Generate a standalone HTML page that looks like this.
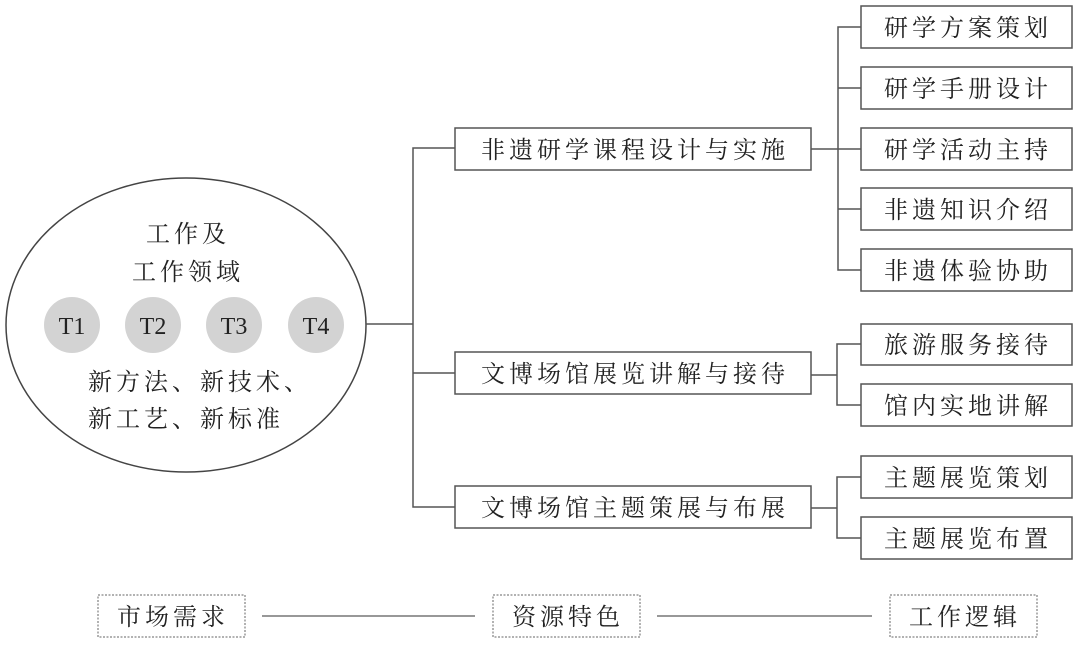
<!DOCTYPE html>
<html><head><meta charset="utf-8"><style>
body{margin:0;background:#fff;}
svg text{font-family:"Liberation Serif","Noto Serif CJK SC","Noto Serif CJK",serif;fill:#222;}
.s{letter-spacing:4px;}
</style></head><body>
<svg width="1080" height="645" viewBox="0 0 1080 645" xmlns="http://www.w3.org/2000/svg">
<g stroke="#555" stroke-width="1.5" fill="none">
<ellipse cx="186" cy="325" rx="180" ry="147" stroke="#444"/>
<line x1="366" y1="324" x2="413" y2="324"/>
<polyline points="455,148 413,148 413,507 455,507"/>
<line x1="413" y1="373" x2="455" y2="373"/>
<rect x="455" y="128" width="356" height="42"/>
<rect x="455" y="352" width="356" height="42"/>
<rect x="455" y="486" width="356" height="42"/>
<line x1="811" y1="149" x2="861" y2="149"/>
<polyline points="861,27 838,27 838,270 861,270"/>
<line x1="838" y1="88" x2="861" y2="88"/>
<line x1="838" y1="209" x2="861" y2="209"/>
<line x1="811" y1="375" x2="837" y2="375"/>
<polyline points="861,344 837,344 837,405 861,405"/>
<line x1="811" y1="508" x2="837" y2="508"/>
<polyline points="861,477 837,477 837,538 861,538"/>
<rect x="861" y="6" width="211" height="42"/>
<rect x="861" y="67" width="211" height="42"/>
<rect x="861" y="128" width="211" height="42"/>
<rect x="861" y="188" width="211" height="42"/>
<rect x="861" y="249" width="211" height="42"/>
<rect x="861" y="324" width="211" height="41"/>
<rect x="861" y="384" width="211" height="42"/>
<rect x="861" y="456" width="211" height="42"/>
<rect x="861" y="517" width="211" height="42"/>
<line x1="262" y1="616" x2="475" y2="616" stroke="#777"/>
<line x1="657" y1="616" x2="872" y2="616" stroke="#777"/>
</g>
<g stroke="#666" stroke-width="1" stroke-dasharray="2,1.5" fill="none">
<rect x="98" y="595" width="147" height="42"/>
<rect x="493" y="595" width="147" height="42"/>
<rect x="890" y="595" width="147" height="42"/>
</g>
<g fill="#d3d3d3">
<circle cx="72" cy="325" r="28"/><circle cx="153" cy="325" r="28"/>
<circle cx="234" cy="325" r="28"/><circle cx="316" cy="325" r="28"/>
</g>
<g font-size="24" text-anchor="middle">
<text x="72" y="334">T1</text><text x="153" y="334">T2</text>
<text x="234" y="334">T3</text><text x="316" y="334">T4</text>
</g>
<g font-size="24" class="s">
<text x="88" y="390">新方法、新技术、</text>
<text x="88" y="427">新工艺、新标准</text>
</g>
<g font-size="24" text-anchor="middle" class="s">
<text x="188" y="242">工作及</text>
<text x="188" y="280">工作领域</text>
<text x="635" y="158">非遗研学课程设计与实施</text>
<text x="635" y="382">文博场馆展览讲解与接待</text>
<text x="635" y="516">文博场馆主题策展与布展</text>
<text x="968" y="36">研学方案策划</text>
<text x="968" y="97">研学手册设计</text>
<text x="968" y="158">研学活动主持</text>
<text x="968" y="218">非遗知识介绍</text>
<text x="968" y="279">非遗体验协助</text>
<text x="968" y="353">旅游服务接待</text>
<text x="968" y="414">馆内实地讲解</text>
<text x="968" y="486">主题展览策划</text>
<text x="968" y="547">主题展览布置</text>
<text x="173" y="625">市场需求</text>
<text x="568" y="625">资源特色</text>
<text x="965" y="625">工作逻辑</text>
</g>
</svg>
</body></html>
